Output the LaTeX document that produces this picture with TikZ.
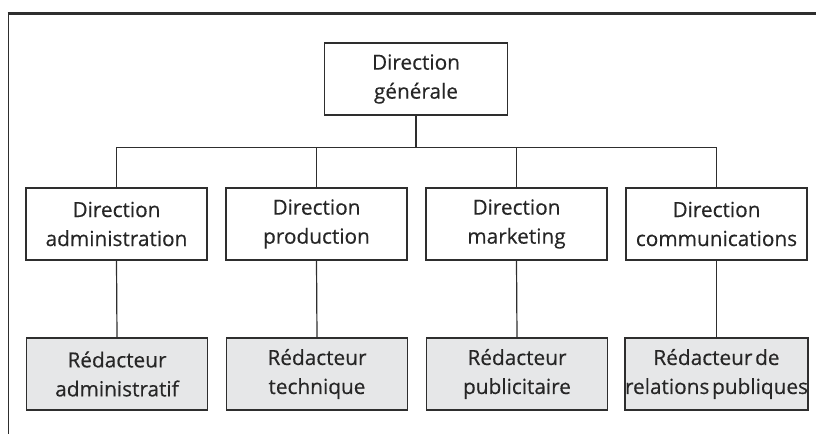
\documentclass[tikz,border=0pt]{standalone}
\usepackage{fontspec}
\setmainfont{Open Sans}[FakeBold=0.35]
\definecolor{ink}{HTML}{2E2E2E}
\definecolor{txt}{HTML}{262626}
\definecolor{shade}{HTML}{E6E7E8}
% box lettering: slightly tight word spacing
\newcommand\boxletters{\fontsize{20.8}{29}\selectfont\spaceskip=2.7pt\relax}
\begin{document}
\begin{tikzpicture}[x=1pt,y=-1pt,
  unit/.style={draw=ink, line width=1.2pt, rectangle, minimum width=181pt,
    minimum height=72pt, inner sep=0pt, align=center, text=txt,
    font=\boxletters},
  writer/.style={unit, fill=shade},
  link/.style={draw=ink, line width=1.2pt}]
\useasboundingbox (0,0) rectangle (816,434);

% page rules
\draw[ink, line width=3pt] (7.5,13) -- (816,13);
\draw[ink, line width=1pt] (8.5,13) -- (8.5,434);

% top of the hierarchy
\node[unit, minimum width=183pt] (dg) at (416,79) {Direction\\générale};

% directions
\node[unit] (d1) at (116.5,224) {Direction\\administration};
\node[unit] (d2) at (316.5,224) {Direction\\production};
\node[unit] (d3) at (516.5,224) {Direction\\marketing};
\node[unit] (d4) at (716.5,224) {Direction\\communications};

% writers
\node[writer] (r1) at (117,374) {Rédacteur\\administratif};
\node[writer] (r2) at (317,374) {Rédacteur\\technique};
\node[writer] (r3) at (517,374) {Rédacteur\\publicitaire};
\node[writer] (r4) at (716.5,374) {Rédacteur de\\relations publiques};

% connectors
\coordinate (bus) at (416,147.3);
\draw[link] (dg.south) -- (dg.south |- bus);
\draw[link] (d1.north) -- (d1.north |- bus) -- (d4.north |- bus) -- (d4.north);
\draw[link] (d2.north) -- (d2.north |- bus);
\draw[link] (d3.north) -- (d3.north |- bus);
\foreach \i in {1,2,3,4} \draw[link] (d\i.south) -- (r\i.north);
\end{tikzpicture}
\end{document}
